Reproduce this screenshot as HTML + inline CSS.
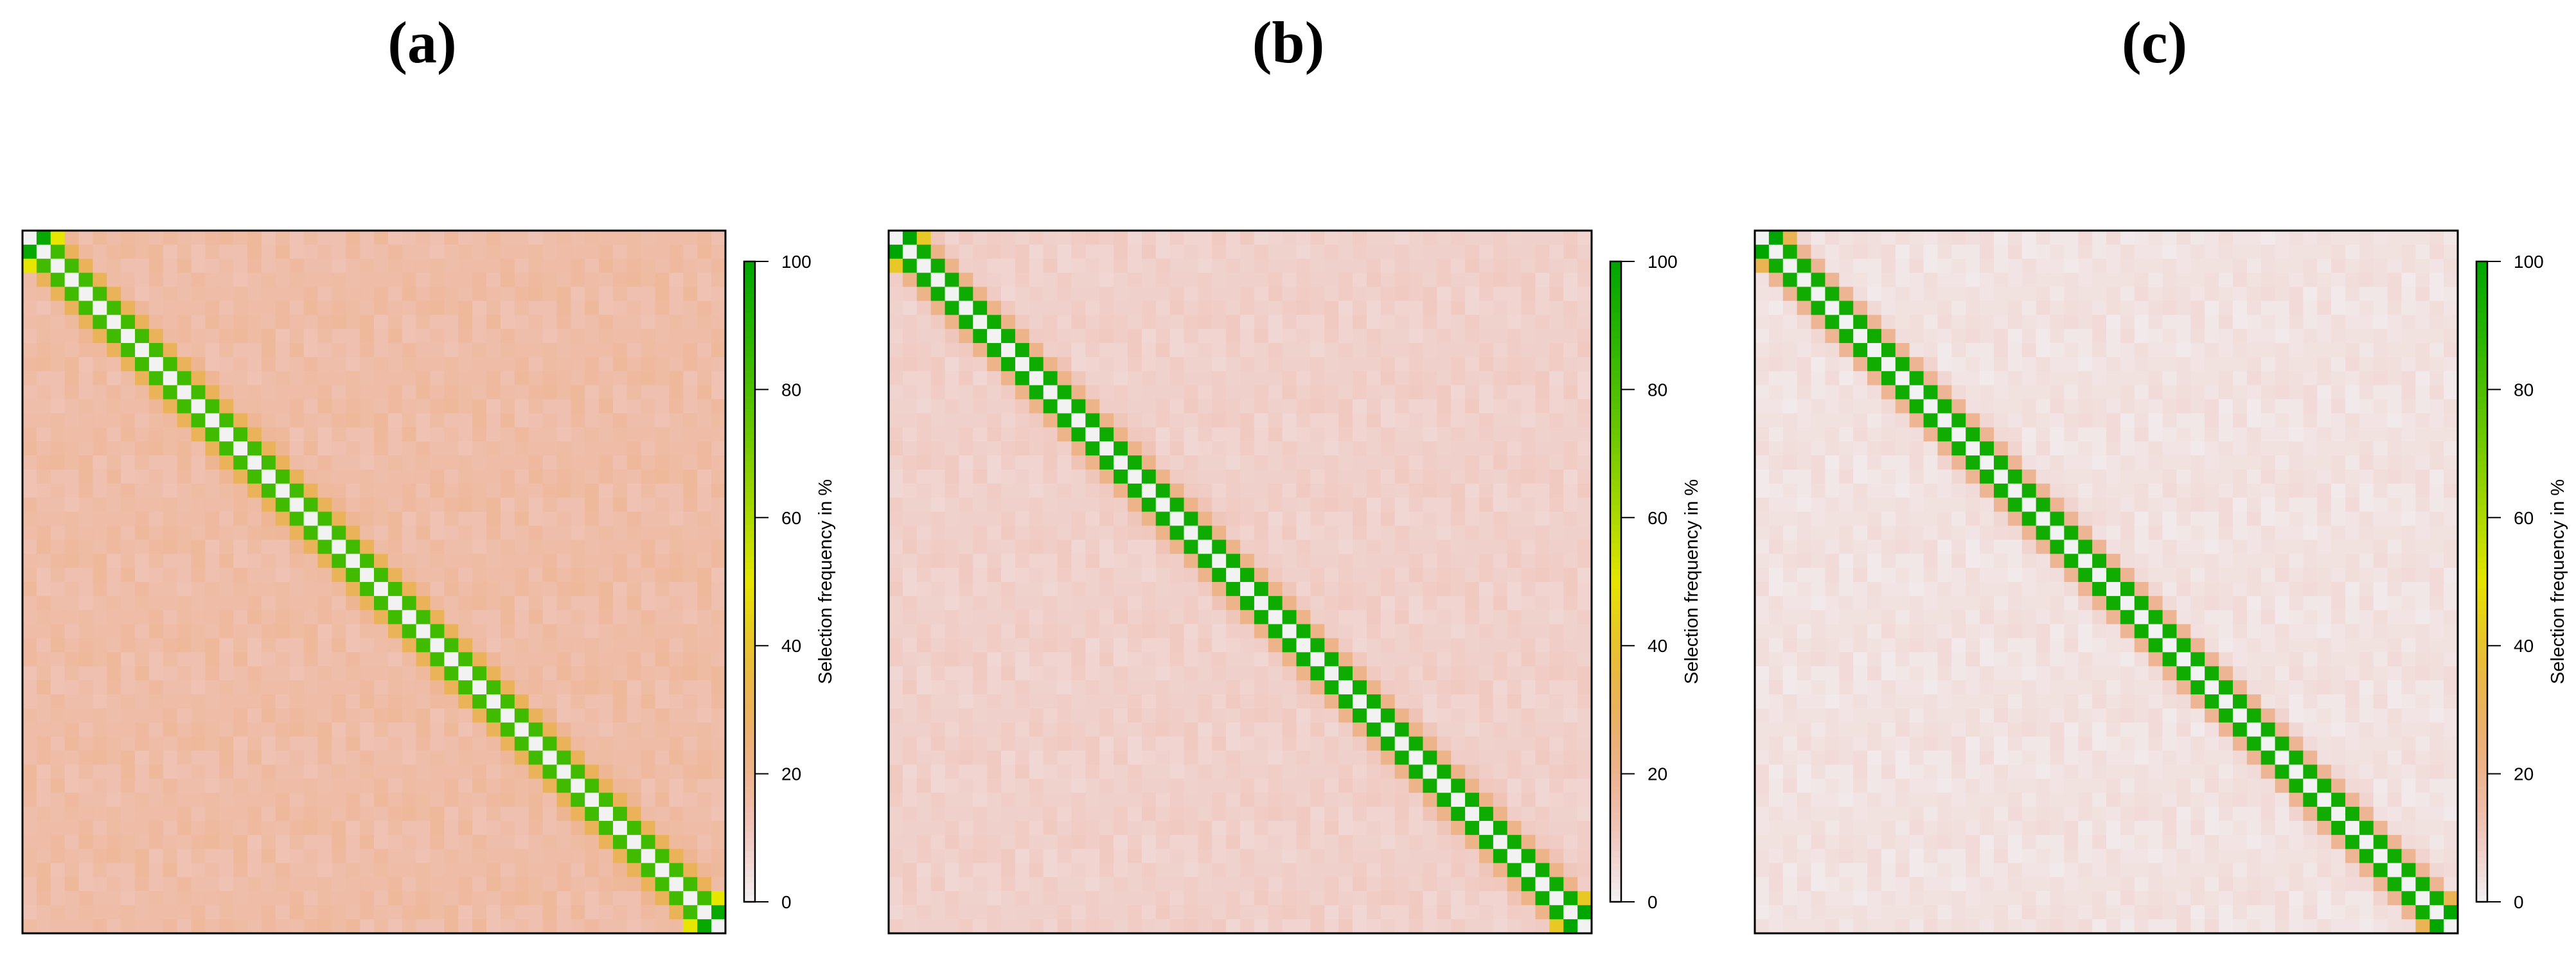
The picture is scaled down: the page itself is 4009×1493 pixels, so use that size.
<!DOCTYPE html>
<html><head><meta charset="utf-8"><style>
html,body{margin:0;padding:0;background:#fff;}
svg{display:block;}
</style></head><body>
<svg id="chart" width="4009" height="1493" viewBox="0 0 4009 1493" xmlns="http://www.w3.org/2000/svg">
<rect width="4009" height="1493" fill="#fff"/>
</svg>
<script>
// ---- data ----
const panelLabels = ["(a)", "(b)", "(c)"];
const nVars = 50;
// band values by |i-j| offset (0 = diagonal, 1, 2, 3), in %
const bandA = [0, 83, 31, 17];
const bandB = [0, 96, 21, 10];
const bandC = [0, 95, 19, 5];
// background level in %
const backgroundLevels = [15, 8, 3.5];
// corner values (0,1),(0,2) mirrored to the bottom-right corner
const cornerA = [98, 50];
const cornerB = [100, 42];
const cornerC = [100, 32];
// small cell-to-cell variation in % (read as visual texture)
const noise = [1,-2,0,2,-1,3,-3,0,1,-1,2,-2,0,3,-1,1,-3,2,0,-2,1,0,-1,2,-2,3,0,-3,1,-1,2,0,-2,1,3,-1,0,-2,2,-3,1,0,-1,2,-2,0,3,-1,1,-2];
const colorbarTicks = [0, 20, 40, 60, 80, 100];
const colorbarTitle = "Selection frequency in %";

const bands = [bandA, bandB, bandC];
const corners = [cornerA, cornerB, cornerC];

// ---- layout ----
const panelX0 = 35, panelDX = 1348, plotTop = 359, plotSize = 1094;
const cbW = 17, cbOffset = 1123, cbTop = 407, cbBottom = 1404;
const NS = "http://www.w3.org/2000/svg";
const svg = document.getElementById("chart");

function hsv(h, s, v) {
  const i = Math.floor(h * 6), f = h * 6 - i;
  const p = v * (1 - s), q = v * (1 - f * s), t = v * (1 - (1 - f) * s);
  let r, g, b;
  switch (((i % 6) + 6) % 6) {
    case 0: r = v; g = t; b = p; break;
    case 1: r = q; g = v; b = p; break;
    case 2: r = p; g = v; b = t; break;
    case 3: r = p; g = q; b = v; break;
    case 4: r = t; g = p; b = v; break;
    default: r = v; g = p; b = q;
  }
  return "rgb(" + Math.round(r * 255) + "," + Math.round(g * 255) + "," + Math.round(b * 255) + ")";
}
// reversed terrain.colors
function color(pct) {
  pct = Math.max(0, Math.min(100, pct));
  if (pct >= 50) {
    const u = (100 - pct) / 50;
    return hsv(4 / 12 - u * 2 / 12, 1, 0.65 + 0.25 * u);
  }
  const u = (50 - pct) / 50;
  return hsv(2 / 12 - u * 2 / 12, 1 - u, 0.9 + 0.05 * u);
}
function el(tag, attrs) {
  const e = document.createElementNS(NS, tag);
  for (const k in attrs) e.setAttribute(k, attrs[k]);
  return e;
}
function xScale(p, j) { return panelX0 + p * panelDX + j * plotSize / nVars; }
function yScale(i) { return plotTop + i * plotSize / nVars; }
function cbY(v) { return cbBottom - (v / 100) * (cbBottom - cbTop); }

function cellValue(p, i, j) {
  const d = Math.abs(i - j);
  const band = bands[p], c = corners[p];
  if ((i === 0 && j === 2) || (i === 2 && j === 0) ||
      (i === nVars - 1 && j === nVars - 3) || (i === nVars - 3 && j === nVars - 1)) return c[1];
  if ((i === 0 && j === 1) || (i === 1 && j === 0) ||
      (i === nVars - 1 && j === nVars - 2) || (i === nVars - 2 && j === nVars - 1)) return c[0];
  if (d < band.length && d < 3) return band[d];
  const base = d === 3 ? band[3] : backgroundLevels[p];
  const nz = noise[(i * 17 + j * 31) % noise.length] * (p === 0 ? 0.8 : 0.6);
  return base + nz;
}

for (let p = 0; p < 3; p++) {
  const g = el("g", {});
  
  
  svg.appendChild(g);

  const title = el("text", { x: 657 + p * panelDX, y: 97, "text-anchor": "middle",
    "font-family": "Liberation Serif, serif", "font-weight": "bold", "font-size": "92" });
  title.textContent = panelLabels[p];
  
  
  g.appendChild(title);

  const cellW = plotSize / nVars;
  for (let i = 0; i < nVars; i++) {
    for (let j = 0; j < nVars; j++) {
      const r = el("rect", { x: xScale(p, j).toFixed(2), y: yScale(i).toFixed(2),
        width: (cellW + 0.6).toFixed(2), height: (cellW + 0.6).toFixed(2), fill: color(cellValue(p, i, j)) });
      
      
      g.appendChild(r);
    }
  }
  const frame = el("rect", { x: xScale(p, 0), y: plotTop, width: plotSize, height: plotSize,
    fill: "none", stroke: "#000", "stroke-width": 3 });
  
  
  g.appendChild(frame);

  // colorbar
  const cbX = xScale(p, 0) + cbOffset;
  const cb = el("g", {});
  
  
  g.appendChild(cb);
  const steps = 100;
  for (let k = 0; k < steps; k++) {
    const v0 = k, v1 = k + 1;
    const r = el("rect", { x: cbX, y: cbY(v1).toFixed(2), width: cbW,
      height: (cbY(v0) - cbY(v1) + 0.6).toFixed(2), fill: color(k + 0.5) });
    
    
    cb.appendChild(r);
  }
  const cbFrame = el("rect", { x: cbX, y: cbTop, width: cbW, height: cbBottom - cbTop,
    fill: "none", stroke: "#000", "stroke-width": 2.5 });
  
  
  cb.appendChild(cbFrame);
  for (const t of colorbarTicks) {
    const ln = el("line", { x1: cbX + cbW, x2: cbX + cbW + 21, y1: cbY(t), y2: cbY(t), stroke: "#000", "stroke-width": 2 });
    
    
    cb.appendChild(ln);
    const tx = el("text", { x: cbX + cbW + 41, y: cbY(t) + 10, "font-family": "Liberation Sans, sans-serif", "font-size": "28" });
    tx.textContent = t;
    
    
    cb.appendChild(tx);
  }
  const cx = cbX + 126, cy = (cbTop + cbBottom) / 2;
  const ct = el("text", { x: cx, y: cy, "text-anchor": "middle", "font-family": "Liberation Sans, sans-serif",
    "font-size": "29", transform: "rotate(-90 " + cx + " " + cy + ")", dy: "10" });
  ct.textContent = colorbarTitle;
  
  
  cb.appendChild(ct);
}
</script>
</body></html>
